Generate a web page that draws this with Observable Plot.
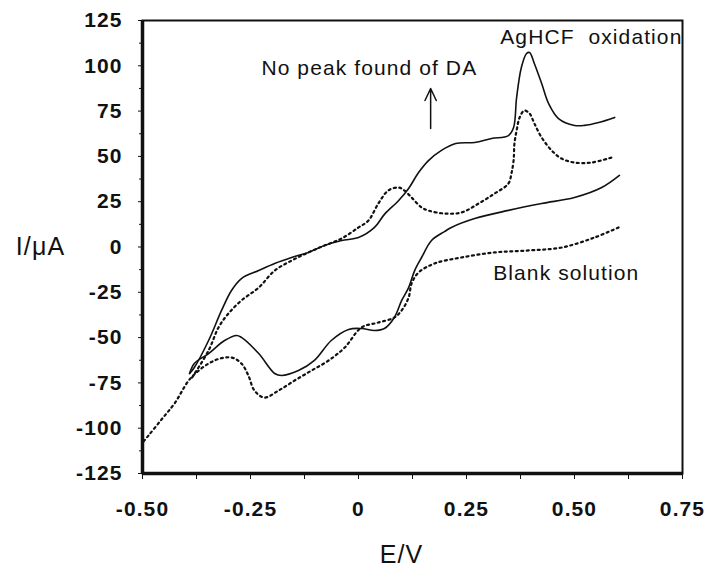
<!DOCTYPE html>
<html>
<head>
<meta charset="utf-8">
<script src="https://cdn.jsdelivr.net/npm/d3@7"></script>
<script src="https://cdn.jsdelivr.net/npm/@observablehq/plot@0.6"></script>
<style>
  html, body { margin: 0; padding: 0; background: #fff; }
  #chart { width: 708px; height: 577px; }
  #chart svg text { letter-spacing: 1.1px; }
</style>
</head>
<body>
<div id="chart"></div>
<script>
// ---- Data (E in V, I in µA) ----
const solidForward = [
  [-0.391,-69.8],[-0.380,-66.5],[-0.347,-51.6],[-0.317,-35.0],[-0.294,-24.0],[-0.271,-17.4],
  [-0.231,-13.0],[-0.194,-9.1],[-0.155,-5.8],[-0.116,-3.0],[-0.079,0.8],[-0.039,3.6],
  [0.000,5.2],[0.037,10.8],[0.060,18.0],[0.093,25.7],[0.116,32.3],[0.139,41.1],[0.162,47.7],
  [0.192,53.3],[0.225,57.1],[0.269,57.7],[0.308,59.9],[0.347,61.5],[0.359,65.9],[0.366,82.5],
  [0.377,99.1],[0.389,106.8],[0.396,107.3],[0.407,101.3],[0.424,90.2],[0.440,79.2],
  [0.463,70.9],[0.500,67.1],[0.523,67.1],[0.556,68.7],[0.593,71.5]
];
const solidReverse = [
  [0.604,39.5],[0.563,32.8],[0.500,27.3],[0.424,24.0],[0.347,20.2],[0.269,15.7],[0.215,10.8],
  [0.199,8.5],[0.169,3.6],[0.146,-5.8],[0.130,-13.0],[0.116,-22.4],[0.100,-29.5],[0.083,-38.9],
  [0.060,-45.0],[0.037,-46.1],[0.007,-45.0],[-0.023,-45.5],[-0.063,-51.6],[-0.102,-62.6],
  [-0.139,-68.2],[-0.178,-70.9],[-0.194,-69.8],[-0.231,-58.8],[-0.271,-49.9],[-0.282,-48.8],
  [-0.310,-51.6],[-0.347,-58.8],[-0.380,-64.3],[-0.391,-69.8]
];
const dottedForward = [
  [-0.385,-72.0],[-0.347,-57.1],[-0.324,-44.4],[-0.301,-36.7],[-0.271,-29.5],[-0.231,-22.4],
  [-0.194,-13.0],[-0.155,-7.5],[-0.116,-3.0],[-0.079,0.8],[-0.039,4.7],[0.000,10.8],
  [0.023,14.6],[0.046,24.0],[0.069,31.2],[0.093,32.8],[0.106,31.2],[0.123,27.3],[0.146,21.8],
  [0.162,20.1],[0.199,18.5],[0.238,19.0],[0.278,24.0],[0.315,29.5],[0.347,35.0],[0.354,40.6],
  [0.359,47.7],[0.361,57.1],[0.366,64.3],[0.373,71.5],[0.384,75.3],[0.396,73.7],[0.407,68.2],
  [0.424,60.4],[0.447,53.3],[0.470,48.8],[0.500,46.6],[0.539,46.6],[0.586,49.4]
];
const dottedReverse = [
  [0.602,10.8],[0.546,5.2],[0.470,-0.3],[0.394,-1.9],[0.315,-3.0],[0.238,-5.8],[0.176,-9.1],
  [0.139,-14.1],[0.123,-20.1],[0.116,-27.9],[0.100,-35.0],[0.083,-38.9],[0.046,-41.7],
  [0.007,-44.4],[-0.032,-55.5],[-0.069,-62.6],[-0.109,-68.2],[-0.148,-73.7],[-0.185,-79.2],
  [-0.218,-83.1],[-0.241,-79.2],[-0.255,-70.9],[-0.271,-64.3],[-0.294,-61.0],[-0.333,-62.6],
  [-0.387,-72.0],[-0.426,-86.4],[-0.456,-95.2],[-0.486,-104.0],[-0.500,-108.0]
];

const xTicks = [-0.5, -0.25, 0, 0.25, 0.5, 0.75];
const xMinorTicks = [-0.375, -0.125, 0.125, 0.375, 0.625];
const yTicks = [-125, -100, -75, -50, -25, 0, 25, 50, 75, 100, 125];
const yMinorTicks = [-112.5, -87.5, -62.5, -37.5, -12.5, 12.5, 37.5, 62.5, 87.5, 112.5];

const notes = [
  {E: 0.025, I: 98.5, text: "No peak found of DA"},
  {E: 0.539, I: 115.6, text: "AgHCF  oxidation"},
  {E: 0.481, I: -14.6, text: "Blank solution"}
];
const arrows = [{E1: 0.167, I1: 65.4, E2: 0.167, I2: 87.5}];

const toRows = (arr) => arr.map(([E, I]) => ({E, I}));

const chart = Plot.plot({
  width: 708,
  height: 577,
  marginLeft: 142,
  marginRight: 26,
  marginTop: 20,
  marginBottom: 104,
  style: {fontFamily: "'Liberation Sans', Arial, sans-serif", background: "#fff", color: "#111"},
  x: {domain: [-0.5, 0.75]},
  y: {domain: [-125, 125]},
  marks: [
    Plot.axisY(yTicks, {
      tickSize: 4, tickPadding: 16, label: null,
      tickFormat: d => String(d),
      fontSize: 21, fontWeight: "bold"
    }),
    Plot.axisY(yMinorTicks, {tickSize: 3, tickFormat: () => "", label: null}),
    Plot.axisX(xTicks, {
      tickSize: 6, tickPadding: 22, label: null,
      tickFormat: d => d === 0 ? "0" : d.toFixed(2),
      fontSize: 21, fontWeight: "bold"
    }),
    Plot.axisX(xMinorTicks, {tickSize: 6, tickFormat: () => "", label: null}),
    Plot.frame({stroke: "#111", strokeWidth: 2}),
    Plot.ruleX([-0.5], {stroke: "#111", strokeWidth: 3.5}),
    Plot.ruleY([-125], {stroke: "#111", strokeWidth: 3.5}),
    Plot.line(toRows(solidForward), {x: "E", y: "I", stroke: "#111", strokeWidth: 1.6, curve: "catmull-rom"}),
    Plot.line(toRows(solidReverse), {x: "E", y: "I", stroke: "#111", strokeWidth: 1.6, curve: "catmull-rom"}),
    Plot.line(toRows(dottedForward), {x: "E", y: "I", stroke: "#111", strokeWidth: 2.2, strokeDasharray: "2,3.5", curve: "catmull-rom"}),
    Plot.line(toRows(dottedReverse), {x: "E", y: "I", stroke: "#111", strokeWidth: 2.2, strokeDasharray: "2,3.5", curve: "catmull-rom"}),
    Plot.text(notes, {x: "E", y: "I", text: "text", fontSize: 21, fill: "#111", textAnchor: "middle"}),
    Plot.arrow(arrows, {x1: "E1", y1: "I1", x2: "E2", y2: "I2", stroke: "#111", strokeWidth: 1.5, headLength: 14, headAngle: 50}),
    Plot.text(["I/\u03bcA"], {frameAnchor: "left", dx: -102, fontSize: 25, fill: "#111", textAnchor: "middle"}),
    Plot.text(["E/V"], {frameAnchor: "bottom", dx: -11, dy: 89, fontSize: 25, fill: "#111", textAnchor: "middle"})
  ]
});
document.getElementById("chart").appendChild(chart);
</script>
</body>
</html>
